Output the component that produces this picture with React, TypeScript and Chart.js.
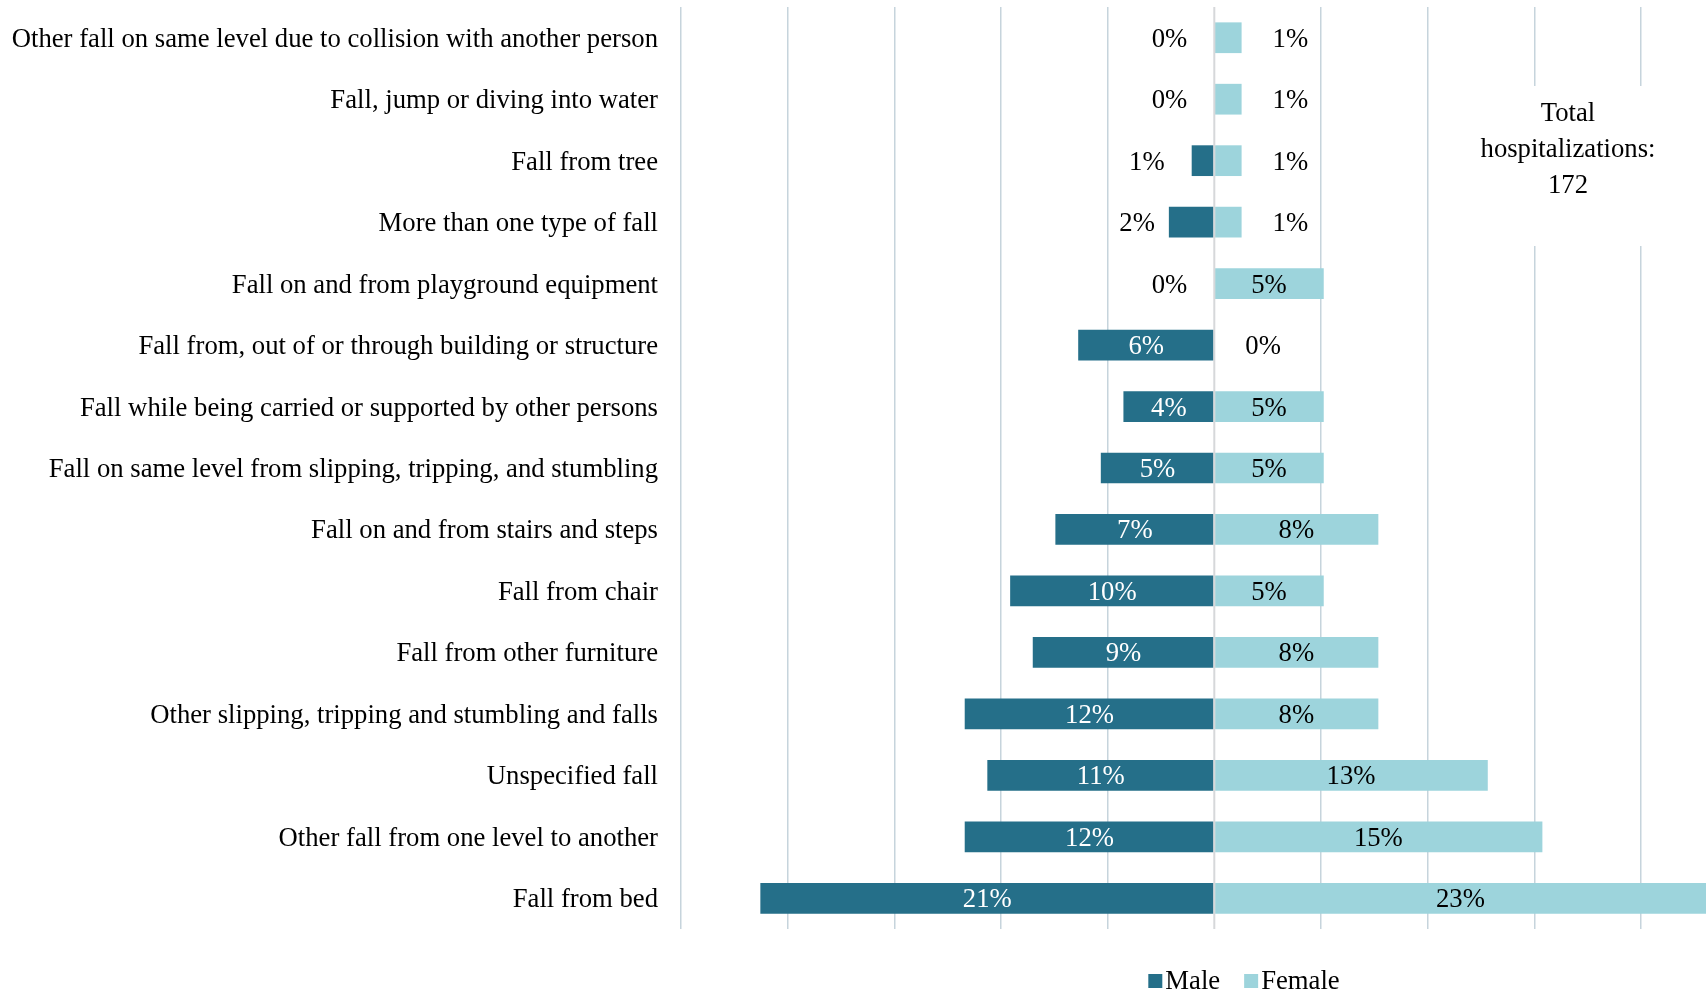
import React, { useEffect, useRef } from "react";
import { Chart, registerables } from "chart.js";

Chart.register(...registerables);

const categories = [
  "Other fall on same level due to collision with another person",
  "Fall, jump or diving into water",
  "Fall from tree",
  "More than one type of fall",
  "Fall on and from playground equipment",
  "Fall from, out of or through building or structure",
  "Fall while being carried or supported by other persons",
  "Fall on same level from slipping, tripping, and stumbling",
  "Fall on and from stairs and steps",
  "Fall from chair",
  "Fall from other furniture",
  "Other slipping, tripping and stumbling and falls",
  "Unspecified fall",
  "Other fall from one level to another",
  "Fall from bed",
];

const malePct = [0, 0, 1.06, 2.13, 0, 6.38, 4.26, 5.32, 7.45, 9.57, 8.51, 11.7, 10.64, 11.7, 21.28];
const femalePct = [1.28, 1.28, 1.28, 1.28, 5.13, 0, 5.13, 5.13, 7.69, 5.13, 7.69, 7.69, 12.82, 15.38, 23.08];

const seriesNames = ["Male", "Female"];
const totalNoteLines = ["Total", "hospitalizations:", "172"];

const MALE_COLOR = "#256f89";
const FEMALE_COLOR = "#9dd4dc";
const GRID_COLOR = "#c6d4dc";
const FONT = "'Liberation Serif', 'Times New Roman', serif";
const FONT_SIZE = 26.7;

const overlayPlugin = {
  id: "overlay",
  beforeDatasetsDraw(chart: any) {
    const ctx = chart.ctx;
    ctx.save();
    ctx.fillStyle = "#ffffff";
    ctx.fillRect(1458, 86, 220, 160);
    ctx.restore();
  },
  afterDatasetsDraw(chart: any) {
    const ctx = chart.ctx;
    const xScale = chart.scales.x;
    const area = chart.chartArea;
    ctx.save();
    // zero line
    const x0 = xScale.getPixelForValue(0);
    ctx.strokeStyle = "#d6d8da";
    ctx.lineWidth = 2;
    ctx.beginPath();
    ctx.moveTo(x0, area.top);
    ctx.lineTo(x0, area.bottom);
    ctx.stroke();

    // data labels
    ctx.font = `${FONT_SIZE}px ${FONT}`;
    ctx.textBaseline = "middle";
    chart.data.datasets.forEach((ds: any, di: number) => {
      const meta = chart.getDatasetMeta(di);
      meta.data.forEach((bar: any, i: number) => {
        const raw = di === 0 ? malePct[i] : femalePct[i];
        const xe = xScale.getPixelForValue(di === 0 ? -raw : raw);
        const txt = `${Math.round(raw)}%`;
        const y = bar.y + 2;
        if (raw >= 3) {
          ctx.textAlign = "center";
          ctx.fillStyle = di === 0 ? "#ffffff" : "#000000";
          ctx.fillText(txt, (xe + x0) / 2, y);
        } else if (di === 0) {
          ctx.textAlign = "right";
          ctx.fillStyle = "#000000";
          ctx.fillText(txt, xe - (raw > 1.5 ? 14 : 27), y);
        } else {
          ctx.textAlign = "left";
          ctx.fillStyle = "#000000";
          ctx.fillText(txt, xe + 31, y);
        }
      });
    });

    // total note
    ctx.textAlign = "center";
    ctx.fillStyle = "#000000";
    totalNoteLines.forEach((line, i) => {
      ctx.fillText(line, 1568, 114 + i * 36);
    });

    // legend
    const items = chart.data.datasets.map((ds: any) => ({
      label: ds.label,
      color: ds.backgroundColor,
      w: ctx.measureText(ds.label).width,
    }));
    const box = 14;
    const boxGap = 3;
    const itemGap = 24;
    let total = 0;
    items.forEach((it: any, i: number) => {
      total += box + boxGap + it.w + (i < items.length - 1 ? itemGap : 0);
    });
    let lx = 1244 - total / 2;
    const ly = 981;
    ctx.textAlign = "left";
    items.forEach((it: any) => {
      ctx.fillStyle = it.color;
      ctx.fillRect(lx, ly - box / 2, box, box);
      lx += box + boxGap;
      ctx.fillStyle = "#000000";
      ctx.fillText(it.label, lx, ly + 1);
      lx += it.w + itemGap;
    });
    ctx.restore();
  },
};

export default function App() {
  const canvasRef = useRef<HTMLCanvasElement | null>(null);

  useEffect(() => {
    if (!canvasRef.current) return;
    const chart = new Chart(canvasRef.current, {
      type: "bar",
      data: {
        labels: categories,
        datasets: [
          {
            label: seriesNames[0],
            data: malePct.map((v) => -v),
            backgroundColor: MALE_COLOR,
            barPercentage: 0.5,
            categoryPercentage: 1,
          },
          {
            label: seriesNames[1],
            data: femalePct,
            backgroundColor: FEMALE_COLOR,
            barPercentage: 0.5,
            categoryPercentage: 1,
          },
        ],
      },
      options: {
        indexAxis: "y",
        animation: false,
        responsive: true,
        maintainAspectRatio: false,
        layout: { autoPadding: false, padding: { top: 7, bottom: 64, left: 0, right: 0 } },
        font: { family: FONT, size: FONT_SIZE },
        plugins: {
          legend: { display: false },
          tooltip: { enabled: false },
        },
        scales: {
          x: {
            stacked: true,
            min: -25,
            max: 23.05,
            ticks: { display: false, stepSize: 5, includeBounds: false },
            grid: {
              color: (c: any) => (c.tick && c.tick.value === 0 ? "rgba(0,0,0,0)" : GRID_COLOR),
              lineWidth: 1.5,
              drawTicks: false,
            },
            border: { display: false },
            afterFit: (scale: any) => {
              scale.height = 0;
              scale.paddingLeft = 0;
              scale.paddingRight = 0;
            },
          },
          y: {
            stacked: true,
            grid: { display: false, drawTicks: false },
            border: { display: false },
            ticks: {
              color: "#000000",
              padding: 23,
              labelOffset: 2,
              font: { family: FONT, size: FONT_SIZE },
            },
            afterFit: (scale: any) => {
              scale.width = 681;
              scale.paddingTop = 0;
              scale.paddingBottom = 0;
            },
          },
        },
      } as any,
      plugins: [overlayPlugin],
    });
    return () => chart.destroy();
  }, []);

  return (
    <div style={{ position: "absolute", left: 0, top: 0, width: 1706, height: 993, background: "#ffffff" }}>
      <canvas ref={canvasRef} />
    </div>
  );
}
